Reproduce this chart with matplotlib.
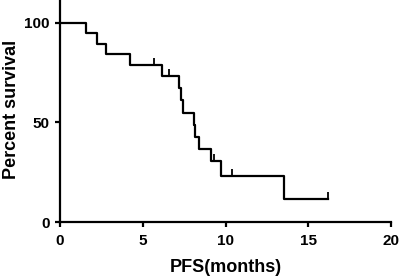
import matplotlib
matplotlib.use("Agg")
import matplotlib.pyplot as plt
from matplotlib.markers import TICKUP

plt.rcParams["font.family"] = ["Liberation Sans", "DejaVu Sans"]
plt.rcParams["font.weight"] = "bold"

# Kaplan-Meier steps
step_times = [0, 1.57, 2.26, 2.78, 4.27, 6.18, 7.17, 7.29, 7.41, 8.1, 8.17, 8.38, 9.12, 9.7, 13.5]
step_surv = [100, 94.7, 89.5, 84.2, 78.9, 73.3, 67.2, 61.1, 55.0, 48.9, 42.8, 36.7, 30.6, 22.9, 11.5]
end_time = 16.2

# censored observations
cens_times = [5.7, 6.6, 9.3, 10.4, 16.2]
cens_surv = [78.9, 73.3, 30.6, 22.9, 11.5]

x_ticks = [0, 5, 10, 15, 20]
y_ticks = [0, 50, 100]

fig = plt.figure(figsize=(4, 2.78), dpi=100)
ax = fig.add_axes([0.149, 0.2014, 0.8295, 0.795])

ax.step(step_times + [end_time], step_surv + [step_surv[-1]], where="post",
        color="black", lw=1.6)
ax.plot(cens_times, cens_surv, ls="none", marker=TICKUP, ms=5, mew=1.3, color="black")

ax.set_xlim(0, 20)
ax.set_ylim(0, 111)
ax.set_xticks(x_ticks)
ax.set_yticks(y_ticks)
for s in ["top", "right"]:
    ax.spines[s].set_visible(False)
for s in ["left", "bottom"]:
    ax.spines[s].set_linewidth(1.6)
ax.tick_params(width=1.6, length=3.8, labelsize=11)
ax.tick_params(axis="x", pad=4.5)
for lab in ax.get_xticklabels() + ax.get_yticklabels():
    lab.set_fontweight("bold")

ax.set_xlabel("PFS(months)", fontsize=13, fontweight="bold", labelpad=8)
ax.set_ylabel("Percent survival", fontsize=13, fontweight="bold")
ax.yaxis.set_label_coords(-0.12, 0.51)

fig.savefig("out.png", dpi=100)
